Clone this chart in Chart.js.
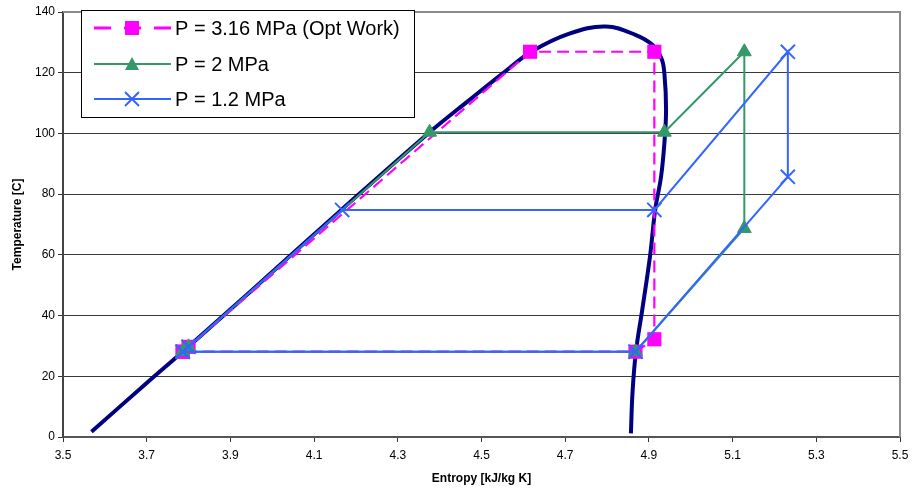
<!DOCTYPE html>
<html>
<head>
<meta charset="utf-8">
<script src="https://cdn.jsdelivr.net/npm/chart.js@4.4.1/dist/chart.umd.min.js"></script>
<style>
  html, body { margin: 0; padding: 0; background: #fff; }
  #wrap { width: 912px; height: 491px; position: relative; }
</style>
</head>
<body>
<div id="wrap"><canvas id="c" width="912" height="491"></canvas></div>
<script>
// ---- Data ----
const xTickValues = [3.5, 3.7, 3.9, 4.1, 4.3, 4.5, 4.7, 4.9, 5.1, 5.3, 5.5];
const yTickValues = [0, 20, 40, 60, 80, 100, 120, 140];

// Saturation dome
const domeEntropy = [3.568, 3.70, 3.786, 3.95, 4.165, 4.376, 4.47, 4.551, 4.62, 4.71, 4.797, 4.869, 4.909, 4.93, 4.937, 4.941, 4.937, 4.929, 4.915, 4.903, 4.884, 4.869, 4.861, 4.857];
const domeTemp    = [1.7, 17.8, 28.1, 48.2, 74.8, 100.4, 110.9, 119.8, 127.0, 132.9, 135.2, 132.4, 129.1, 124.7, 119.8, 108.0, 96.8, 85.7, 74.8, 59.9, 41.8, 28.1, 15.0, 1.2];

// P = 3.16 MPa (Opt Work)
const p316Entropy = [3.786, 3.80, 4.616, 4.913, 4.913, 4.868, 3.786];
const p316Temp    = [28.1, 29.7, 126.9, 126.9, 32.2, 28.1, 28.1];

// P = 2 MPa
const p2Entropy = [3.786, 3.80, 4.376, 4.937, 5.128, 5.128, 4.868, 3.786];
const p2Temp    = [28.1, 29.7, 100.4, 100.4, 126.9, 68.7, 28.1, 28.1];

// P = 1.2 MPa
const p12Entropy = [3.786, 3.80, 4.167, 4.913, 5.232, 5.232, 4.868, 3.786];
const p12Temp    = [28.1, 29.7, 74.8, 74.8, 126.9, 85.7, 28.1, 28.1];

const seriesLabels = ['P = 3.16 MPa (Opt Work)', 'P = 2 MPa', 'P = 1.2 MPa'];

function pts(xs, ys) { return xs.map((x, i) => ({ x: x, y: ys[i] })); }

const COL_DOME = '#000080';
const COL_MAG = '#FF00FF';
const COL_GREEN = '#339966';
const COL_BLUE = '#3366FF';
const FONT = '"Liberation Sans", Arial, sans-serif';

// Legend drawn inside the plot, like the reference
const insideLegend = {
  id: 'insideLegend',
  afterDraw(chart) {
    const ctx = chart.ctx;
    ctx.save();
    const bx = 81.5, by = 10.5, bw = 333, bh = 107;
    ctx.fillStyle = '#fff';
    ctx.fillRect(bx, by, bw, bh);
    ctx.strokeStyle = '#000';
    ctx.lineWidth = 1;
    ctx.strokeRect(bx, by, bw, bh);
    const rows = [28, 64, 99];
    const styles = [
      { color: COL_MAG, dash: [17, 13], width: 3, marker: 'rect' },
      { color: COL_GREEN, dash: [], width: 2, marker: 'triangle' },
      { color: COL_BLUE, dash: [], width: 2, marker: 'cross' }
    ];
    ctx.font = '20px ' + FONT;
    ctx.textBaseline = 'middle';
    ctx.textAlign = 'left';
    rows.forEach((ry, i) => {
      const s = styles[i];
      ctx.strokeStyle = s.color;
      ctx.lineWidth = s.width;
      ctx.setLineDash(s.dash);
      ctx.beginPath();
      ctx.moveTo(94, ry);
      ctx.lineTo(171, ry);
      ctx.stroke();
      ctx.setLineDash([]);
      const mx = 132;
      if (s.marker === 'rect') {
        ctx.fillStyle = s.color;
        ctx.fillRect(mx - 7, ry - 7, 14, 14);
      } else if (s.marker === 'triangle') {
        ctx.fillStyle = s.color;
        ctx.beginPath();
        ctx.moveTo(mx, ry - 7);
        ctx.lineTo(mx + 7, ry + 6);
        ctx.lineTo(mx - 7, ry + 6);
        ctx.closePath();
        ctx.fill();
      } else {
        ctx.strokeStyle = s.color;
        ctx.lineWidth = 2;
        ctx.beginPath();
        ctx.moveTo(mx - 7, ry - 7); ctx.lineTo(mx + 7, ry + 7);
        ctx.moveTo(mx + 7, ry - 7); ctx.lineTo(mx - 7, ry + 7);
        ctx.stroke();
      }
      ctx.fillStyle = '#000';
      ctx.fillText(seriesLabels[i], 175, ry + 1);
    });
    ctx.restore();
  }
};

// Top and right gray borders of plot area
const plotBorder = {
  id: 'plotBorder',
  beforeDatasetsDraw(chart) {
    const { ctx, chartArea: a } = chart;
    ctx.save();
    ctx.strokeStyle = '#8c8c8c';
    ctx.lineWidth = 2;
    ctx.beginPath();
    ctx.moveTo(a.left, a.top);
    ctx.lineTo(a.right, a.top);
    ctx.lineTo(a.right, a.bottom);
    ctx.stroke();
    ctx.restore();
  }
};

new Chart(document.getElementById('c'), {
  type: 'scatter',
  data: {
    datasets: [
      {
        label: seriesLabels[2],
        data: pts(p12Entropy, p12Temp),
        showLine: true,
        borderColor: COL_BLUE,
        borderWidth: 2,
        pointStyle: 'crossRot',
        pointRadius: 10,
        pointBorderColor: COL_BLUE,
        pointBorderWidth: 2,
        order: 1
      },
      {
        label: seriesLabels[1],
        data: pts(p2Entropy, p2Temp),
        showLine: true,
        borderColor: COL_GREEN,
        borderWidth: 2,
        pointStyle: 'triangle',
        pointRadius: 8,
        pointBackgroundColor: COL_GREEN,
        pointBorderColor: COL_GREEN,
        pointBorderWidth: 1,
        order: 2
      },
      {
        label: seriesLabels[0],
        data: pts(p316Entropy, p316Temp),
        showLine: true,
        borderColor: COL_MAG,
        borderWidth: 2.2,
        borderDash: [12, 6],
        pointStyle: 'rect',
        pointRadius: 10,
        pointBackgroundColor: COL_MAG,
        pointBorderColor: COL_MAG,
        pointBorderWidth: 0,
        order: 3
      },
      {
        label: 'dome',
        data: pts(domeEntropy, domeTemp),
        showLine: true,
        borderColor: COL_DOME,
        borderWidth: 4,
        tension: 0.4,
        pointRadius: 0,
        order: 4
      }
    ]
  },
  options: {
    responsive: false,
    animation: false,
    events: [],
    layout: { padding: { left: 0, right: 11, top: 12, bottom: 0 } },
    plugins: { legend: { display: false }, tooltip: { enabled: false } },
    scales: {
      x: {
        type: 'linear',
        min: 3.5, max: 5.5,
        afterBuildTicks(scale) { scale.ticks = xTickValues.map(v => ({ value: v })); },
        afterFit(scale) { scale.height = 54; scale.paddingRight = 0; scale.paddingLeft = 0; },
        ticks: {
          color: '#000',
          font: { family: FONT, size: 12 },
          padding: 6,
          maxRotation: 0,
          autoSkip: false,
          callback: (v) => Number(v).toFixed(1)
        },
        grid: { drawOnChartArea: false, drawTicks: true, tickLength: 5, tickColor: '#333', tickWidth: 1 },
        border: { color: '#555', width: 2 },
        title: {
          display: true,
          text: 'Entropy [kJ/kg K]',
          color: '#000',
          font: { family: FONT, size: 12, weight: 'bold' },
          padding: 5
        }
      },
      y: {
        type: 'linear',
        min: 0, max: 140,
        afterBuildTicks(scale) { scale.ticks = yTickValues.map(v => ({ value: v })); },
        afterFit(scale) { scale.width = 63; scale.paddingTop = 0; scale.paddingBottom = 0; },
        ticks: {
          color: '#000',
          font: { family: FONT, size: 12 },
          padding: 3
        },
        grid: {
          drawOnChartArea: true,
          drawTicks: true,
          tickLength: 5,
          color: (c) => (c.tick && c.tick.value === 140) ? 'rgba(0,0,0,0)' : '#3a3a3a',
          lineWidth: 1,
          tickColor: '#333'
        },
        border: { color: '#444', width: 2 },
        title: {
          display: true,
          text: 'Temperature [C]',
          color: '#000',
          font: { family: FONT, size: 12, weight: 'bold' },
          padding: 10
        }
      }
    }
  },
  plugins: [plotBorder, insideLegend]
});
</script>
</body>
</html>
